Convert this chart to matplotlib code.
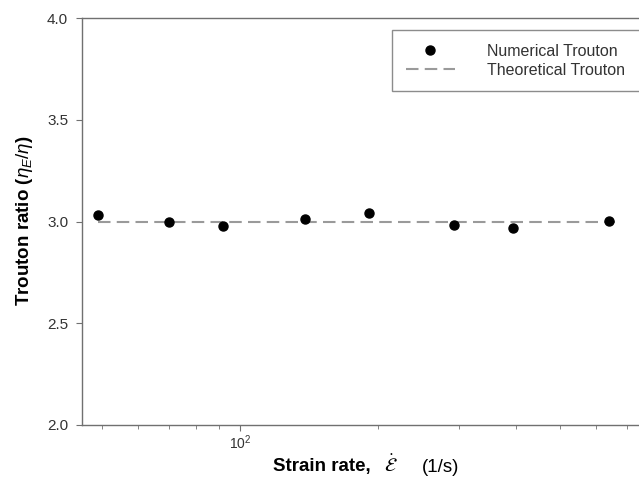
import matplotlib
matplotlib.use("Agg")
import matplotlib.pyplot as plt
from matplotlib.ticker import LogLocator, NullFormatter, FixedLocator

# values
strain_rate = [49, 70, 92, 139, 191, 293, 395, 640]
trouton_num = [3.030, 3.000, 2.977, 3.013, 3.043, 2.984, 2.969, 3.003]
rate_theory = [49, 660]
trouton_theory = [3.0, 3.0]
y_ticks = [2.0, 2.5, 3.0, 3.5, 4.0]

plt.rcParams["font.family"] = ["Liberation Sans", "DejaVu Sans"]
plt.rcParams["mathtext.fontset"] = "custom"
plt.rcParams["mathtext.rm"] = "Liberation Sans"
plt.rcParams["mathtext.it"] = "Liberation Sans:italic"
plt.rcParams["mathtext.bf"] = "Liberation Sans:bold"

W, H = 639, 483
fig = plt.figure(figsize=(W / 100, H / 100), dpi=100)
# the right edge of the plot is cut off in the reference
ax = fig.add_axes([82 / W, 1 - 425 / H, (W + 4 - 82) / W, (425 - 18) / H])

ax.plot(rate_theory, trouton_theory, color="#9a9a9a", lw=1.5,
        dashes=(6, 3), label="Theoretical Trouton", zorder=2)
ax.plot(strain_rate, trouton_num, "o", color="black", ms=6.5,
        label="Numerical Trouton", zorder=3)

ax.set_xscale("log")
ax.set_xlim(45.2, 10 ** (2 + (W + 4 - 240) / 458))
ax.set_ylim(2.0, 4.0)
ax.yaxis.set_major_locator(FixedLocator(y_ticks))
ax.yaxis.set_major_formatter(plt.FormatStrFormatter("%.1f"))
ax.xaxis.set_major_locator(LogLocator(base=10))
ax.xaxis.set_minor_locator(LogLocator(base=10, subs=range(2, 10)))
ax.xaxis.set_minor_formatter(NullFormatter())

for side in ["left", "bottom", "top", "right"]:
    ax.spines[side].set_color("#707070")
    ax.spines[side].set_linewidth(1.0)
ax.tick_params(which="both", direction="out", color="#707070",
               labelcolor="#333333", labelsize=11)
ax.tick_params(axis="y", length=4, pad=6)
ax.tick_params(axis="x", which="major", length=4, pad=2, labelsize=10)
ax.tick_params(axis="x", which="minor", length=3)

# legend, order as in the reference; box runs off the right edge
h, l = ax.get_legend_handles_labels()
leg = ax.legend(h[::-1], l[::-1], loc="upper left",
                bbox_to_anchor=(392 / W, 1 - 30 / H, (W + 10 - 392) / W, 0),
                bbox_transform=fig.transFigure, mode="expand", fontsize=11.5,
                frameon=True, fancybox=False, edgecolor="#707070",
                handlelength=3.1, handletextpad=2.0, labelspacing=0.25,
                borderpad=0.85, borderaxespad=0)
leg.get_frame().set_linewidth(1.0)
for t in leg.get_texts():
    t.set_color("#333333")

# axis labels
fig.text(25 / W, 1 - 221 / H, r"Trouton ratio ($\eta_E/\eta$)", rotation=90,
         ha="center", va="center", fontsize=13.5, fontweight="bold")
fig.text(273 / W, 1 - 467 / H, "Strain rate,", ha="left", va="center",
         fontsize=13.5, fontweight="bold")
fig.text(391 / W, 1 - 465 / H, r"$\dot{\mathcal{E}}$", ha="center",
         va="center", fontsize=14, math_fontfamily="stix")
fig.text(422 / W, 1 - 467 / H, "(1/s)", ha="left", va="center",
         fontsize=13.5)

fig.savefig("out.png", dpi=100)
